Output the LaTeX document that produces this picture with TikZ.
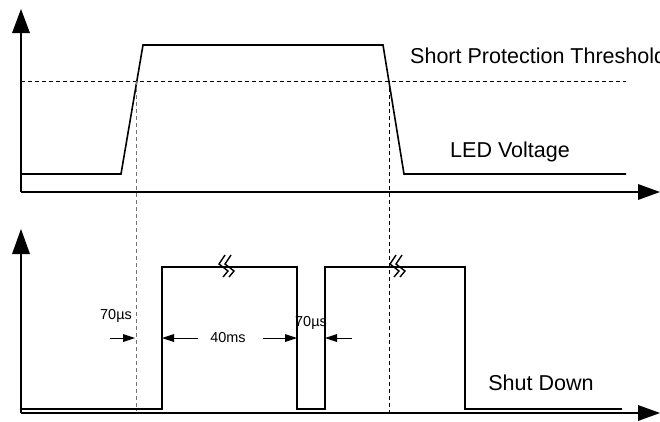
\documentclass[tikz,border=0pt]{standalone}
\usepackage{fontspec}
\setmainfont{Liberation Sans}
\usepackage{tikz}

\begin{document}
\begin{tikzpicture}[x=1bp,y=1bp]
				\tikzstyle{every node}+=[inner sep=0pt]
				\tikzstyle{axis}=[black, line width=2bp]
				\tikzstyle{wave}=[black, line width=1.6bp, line join=miter]
				\tikzstyle{guide}=[line width=0.8bp, dash pattern=on 4bp off 3bp]
				\tikzstyle{biglabel}=[font=\fontsize{21.6}{25}\selectfont]
				\tikzstyle{smalllabel}=[font=\fontsize{14.5}{17}\selectfont]
				\useasboundingbox (0,0) rectangle (660,-421);
				% LED voltage axes
				\draw [axis] (21,-192) -- (638,-192);
				\fill [black] (660,-192) -- (638,-184) -- (638,-200);
				\draw [axis] (21,-192) -- (21,-33);
				\fill [black] (21,-9) -- (12,-33) -- (30,-33);
				% threshold and voltage
				\draw [guide, black] (21,-81) -- (626,-81);
				\draw [wave] (21,-174) -- (121,-174) -- (143,-45) -- (383,-45) -- (404,-174) -- (626,-174);
				\draw (410,-56) node [biglabel, anchor=west] (threshold) {Short Protection Threshold};
				\draw (510,-152) node [biglabel] (voltage) {LED Voltage};
				% shut down axes
				\draw [axis] (21,-413) -- (638,-413);
				\fill [black] (660,-413) -- (638,-405) -- (638,-421);
				\draw [axis] (21,-413) -- (21,-254);
				\fill [black] (21,-229) -- (12,-254) -- (30,-254);
				% crossing guides
				\draw [guide, black!55] (136,-81) -- (136,-411);
				\draw [guide, black] (389,-81) -- (389,-412);
				% shut down signal
				\draw [wave] (21,-409) -- (162,-409) -- (162,-267) -- (297,-267) -- (297,-409) -- (325,-409) -- (325,-267) -- (465,-267) -- (465,-409) -- (622,-409);
				\foreach \bx in {219,390} {
					\draw [black, line width=1.4bp] (\bx+6,-255) -- (\bx,-264) -- (\bx+9,-271) -- (\bx+4,-277);
					\draw [black, line width=1.4bp] (\bx+12,-255) -- (\bx+6,-264) -- (\bx+15,-271) -- (\bx+10,-277);
				}
				\draw (541,-383) node [biglabel] (shutdown) {Shut Down};
				% timing marks
				\draw [black, line width=1bp] (110,-338) -- (123,-338);
				\fill [black] (135,-338) -- (123,-334) -- (123,-342);
				\draw [black, line width=1bp] (198,-338) -- (174,-338);
				\fill [black] (162,-338) -- (174,-334) -- (174,-342);
				\draw [black, line width=1bp] (263,-338) -- (285,-338);
				\fill [black] (297,-338) -- (285,-334) -- (285,-342);
				\draw [black, line width=1bp] (352,-338) -- (337,-338);
				\fill [black] (325,-338) -- (337,-334) -- (337,-342);
				\draw (116,-316) node [smalllabel] (delayon) {70µs};
				\draw (228,-338) node [smalllabel] (offtime) {40ms};
				\draw (311,-323) node [smalllabel] (delayoff) {70µs};
			\end{tikzpicture}
\end{document}
